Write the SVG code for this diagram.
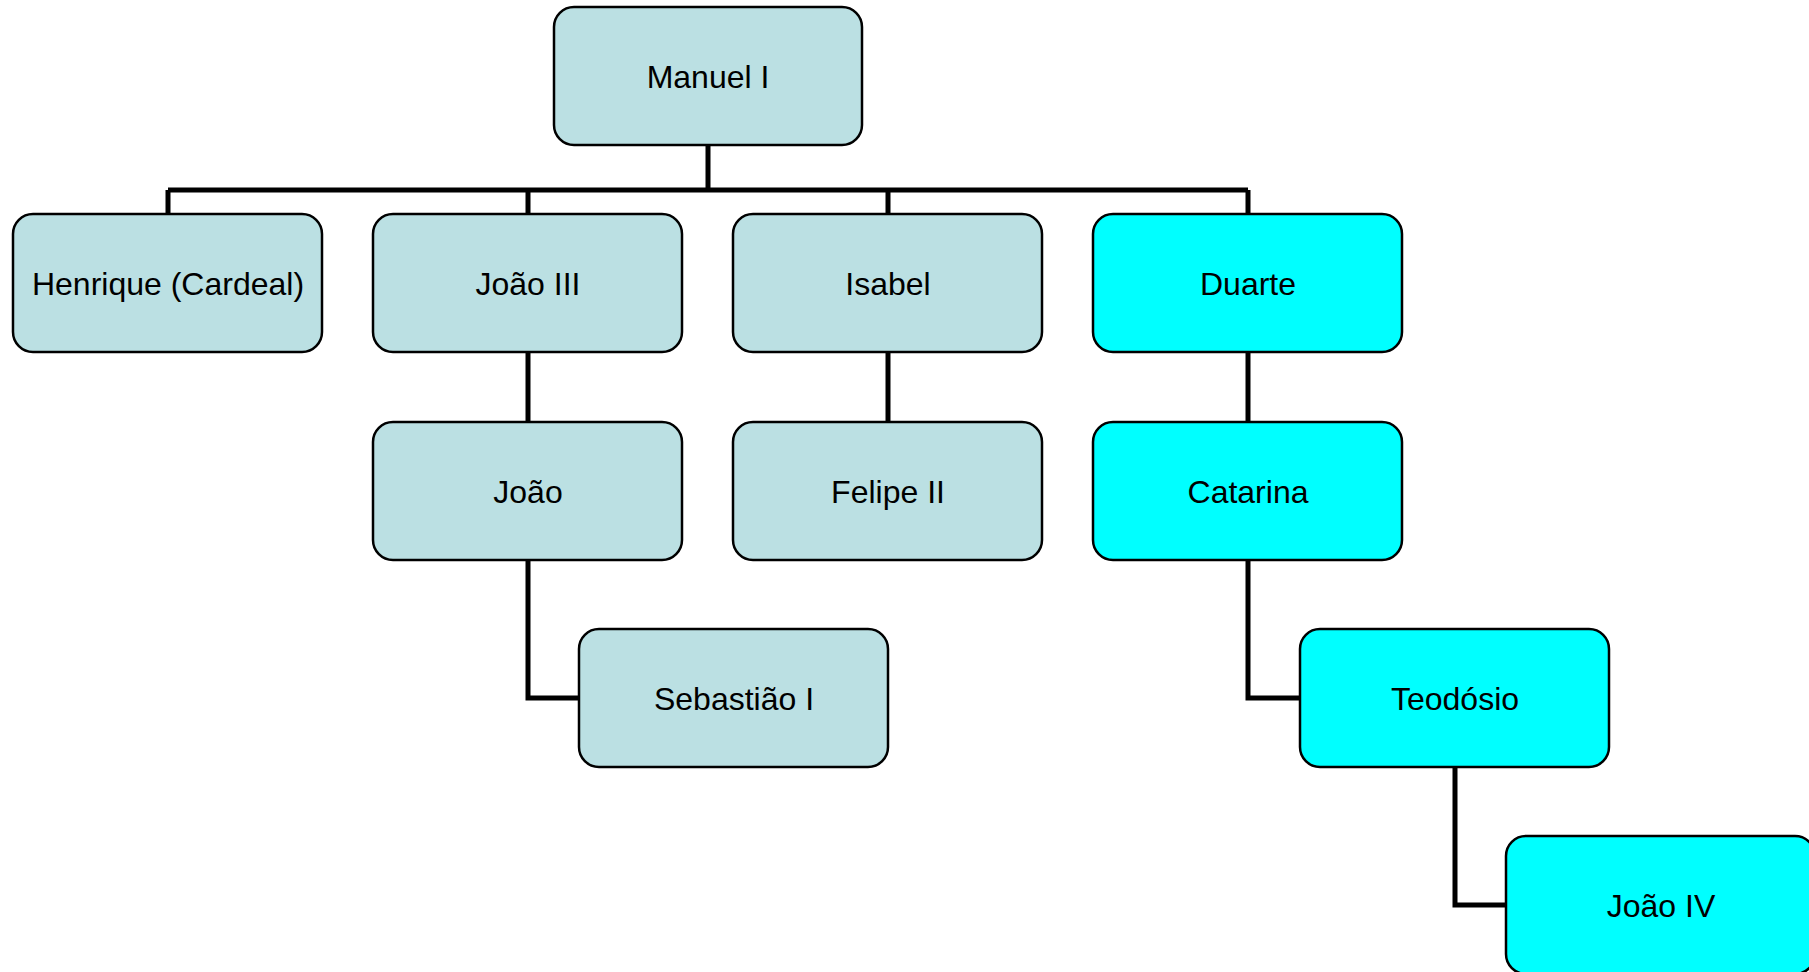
<svg xmlns="http://www.w3.org/2000/svg" width="1809" height="972" viewBox="0 0 1809 972">
<style>
.n rect{stroke:#000;stroke-width:2.5}
.a rect{fill:#BBE0E3}
.c rect{fill:#00FFFF}
.n text{font-family:"Liberation Sans",Arial,sans-serif;font-size:32px;fill:#000;text-anchor:middle}
.conn path{fill:none;stroke:#000;stroke-width:5}
</style>
<rect width="1809" height="972" fill="#fff"/>
<g class="conn">
<path d="M708 145V190M168 190H1248M168 190V214M528 190V214M888 190V214M1248 190V214"/>
<path d="M528 352V422"/>
<path d="M888 352V422"/>
<path d="M1248 352V422"/>
<path d="M528 560V698H579"/>
<path d="M1248 560V698H1300"/>
<path d="M1455 767V905H1506"/>
</g>
<g id="manuel" class="n a"><rect x="554" y="7" width="308" height="138" rx="20"/><text x="708" y="88">Manuel I</text></g>
<g id="henrique" class="n a"><rect x="13" y="214" width="309" height="138" rx="20"/><text x="168" y="295">Henrique (Cardeal)</text></g>
<g id="joao3" class="n a"><rect x="373" y="214" width="309" height="138" rx="20"/><text x="528" y="295">João III</text></g>
<g id="isabel" class="n a"><rect x="733" y="214" width="309" height="138" rx="20"/><text x="888" y="295">Isabel</text></g>
<g id="duarte" class="n c"><rect x="1093" y="214" width="309" height="138" rx="20"/><text x="1248" y="295">Duarte</text></g>
<g id="joao" class="n a"><rect x="373" y="422" width="309" height="138" rx="20"/><text x="528" y="503">João</text></g>
<g id="felipe" class="n a"><rect x="733" y="422" width="309" height="138" rx="20"/><text x="888" y="503">Felipe II</text></g>
<g id="catarina" class="n c"><rect x="1093" y="422" width="309" height="138" rx="20"/><text x="1248" y="503">Catarina</text></g>
<g id="sebastiao" class="n a"><rect x="579" y="629" width="309" height="138" rx="20"/><text x="734" y="710">Sebastião I</text></g>
<g id="teodosio" class="n c"><rect x="1300" y="629" width="309" height="138" rx="20"/><text x="1455" y="710">Teodósio</text></g>
<g id="joao4" class="n c"><rect x="1506" y="836" width="309" height="138" rx="20"/><text x="1661" y="917">João IV</text></g>
</svg>
